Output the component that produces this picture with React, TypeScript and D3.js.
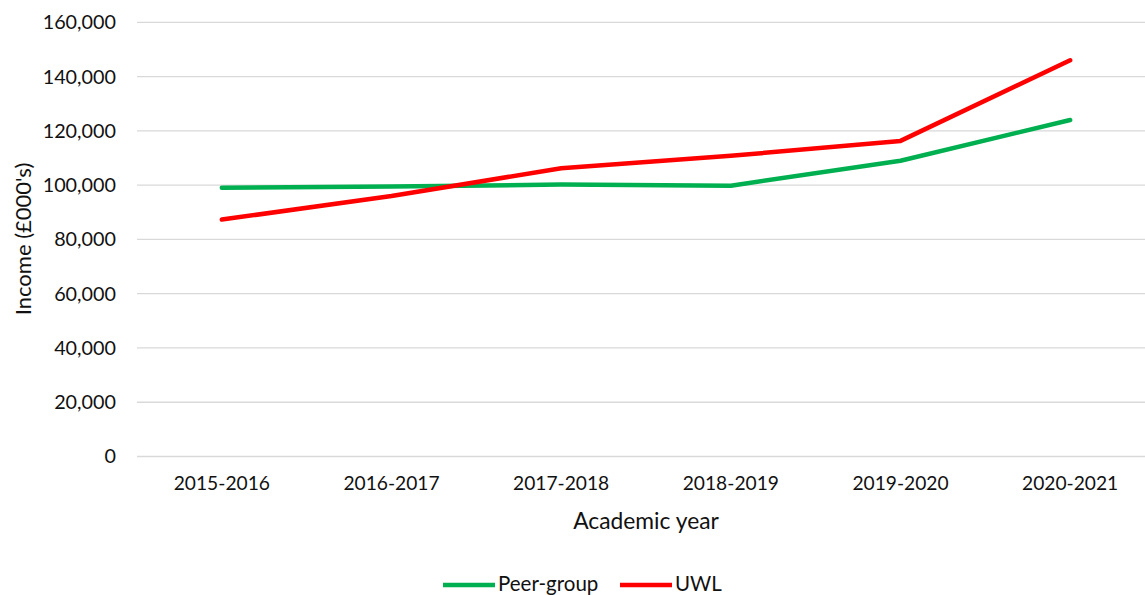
import React from "react";
import * as d3 from "d3";

const categories = ["2015-2016", "2016-2017", "2017-2018", "2018-2019", "2019-2020", "2020-2021"];
const peerGroup = [99000, 99500, 100200, 99800, 109000, 124000];
const uwl = [87300, 96000, 106200, 110800, 116300, 146000];
const yTicks = [0, 20000, 40000, 60000, 80000, 100000, 120000, 140000, 160000];
const seriesNames = ["Peer-group", "UWL"];
const seriesColors = ["#00B050", "#FF0000"];

const W = 1145;
const H = 595;
const FONT = "Lato, 'Open Sans', sans-serif";

export default function App() {
  const x = d3.scaleBand<string>().domain(categories).range([137, 1155]);
  const y = d3.scaleLinear().domain([0, 160000]).range([456.5, 22.3]);
  const fmt = d3.format(",");
  const line = d3
    .line<number>()
    .x((_, i) => (x(categories[i]) as number) + x.bandwidth() / 2)
    .y((d) => y(d));
  const series = [peerGroup, uwl];

  return (
    <svg
      width={W}
      height={H}
      style={{ position: "absolute", left: 0, top: 0, background: "#fff" }}
      fontFamily={FONT}
    >
      <rect width={W} height={H} fill="#fff" />
      {yTicks.map((t) => (
        <g key={t}>
          <line x1={137} x2={1155} y1={y(t)} y2={y(t)} stroke="#d9d9d9" strokeWidth={1.3} />
          <text x={116} y={y(t)} dy="0.35em" textAnchor="end" fontSize={19.8} fill="#111">
            {fmt(t)}
          </text>
        </g>
      ))}
      {categories.map((c) => (
        <text
          key={c}
          x={(x(c) as number) + x.bandwidth() / 2}
          y={490}
          textAnchor="middle"
          fontSize={19.2}
          fill="#111"
        >
          {c}
        </text>
      ))}
      <text x={646} y={529} textAnchor="middle" fontSize={22.8} fill="#111">
        Academic year
      </text>
      <text
        transform={`translate(31,239) rotate(-90)`}
        textAnchor="middle"
        fontSize={22}
        fill="#111"
      >
        Income (£000's)
      </text>
      {series.map((s, i) => (
        <path
          key={i}
          d={line(s) as string}
          fill="none"
          stroke={seriesColors[i]}
          strokeWidth={4.5}
          strokeLinecap="round"
          strokeLinejoin="round"
        />
      ))}
      {seriesNames.map((n, i) => {
        const lx = i === 0 ? 443 : 620;
        return (
          <g key={n}>
            <line x1={lx} x2={lx + 52} y1={585} y2={585} stroke={seriesColors[i]} strokeWidth={4.5} />
            <text x={lx + 55} y={591} fontSize={20.5} fill="#111">
              {n}
            </text>
          </g>
        );
      })}
    </svg>
  );
}
